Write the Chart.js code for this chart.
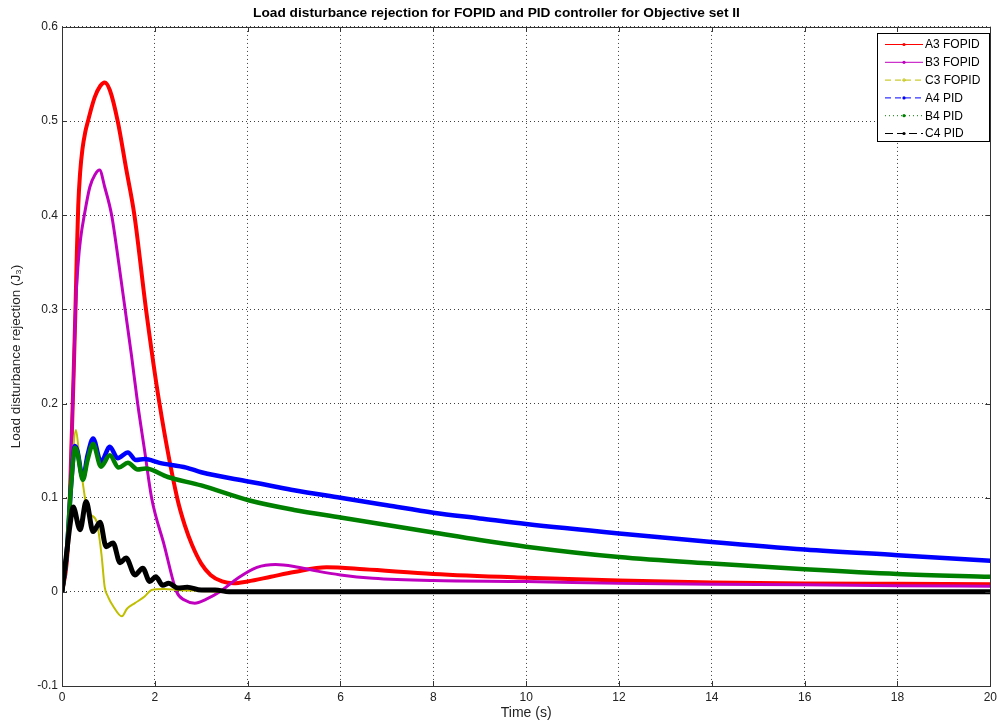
<!DOCTYPE html>
<html>
<head>
<meta charset="utf-8">
<script src="https://cdn.jsdelivr.net/npm/chart.js@4/dist/chart.umd.min.js"></script>
<style>
  html, body { margin: 0; padding: 0; background: #fff; }
  #wrap { width: 1001px; height: 726px; }
</style>
</head>
<body>
<div id="wrap"><canvas id="myChart" width="1001" height="726"></canvas></div>
<script>
// values (time in s, response)
const tA3 = [0, 0.1, 0.15, 0.2, 0.25, 0.29, 0.32, 0.35, 0.39, 0.44, 0.5, 0.56, 0.64, 0.71, 0.82, 0.92, 1.03, 1.2, 1.38, 1.56, 1.81, 2.1, 2.48, 2.65, 2.8, 3.0, 3.2, 3.45, 3.7, 4.0, 4.5, 5, 5.7, 6.5, 8, 10, 12, 14, 16, 18, 20];
const vA3 = [0, 0.03, 0.07, 0.15, 0.23, 0.3, 0.36, 0.41, 0.445, 0.47, 0.488, 0.5, 0.515, 0.526, 0.537, 0.541, 0.533, 0.5, 0.45, 0.4, 0.3, 0.2, 0.1, 0.07, 0.05, 0.03, 0.018, 0.011, 0.009, 0.011, 0.016, 0.021, 0.026, 0.024, 0.019, 0.015, 0.012, 0.01, 0.009, 0.0085, 0.008];

const tB3 = [0, 0.1, 0.15, 0.2, 0.25, 0.29, 0.35, 0.4, 0.48, 0.6, 0.71, 0.81, 0.92, 1.07, 1.22, 1.36, 1.5, 1.63, 1.78, 1.93, 2.2, 2.47, 2.65, 2.86, 3.1, 3.4, 3.8, 4.2, 4.6, 5, 5.5, 6, 6.7, 8, 10, 12, 14, 16, 18, 20];
const vB3 = [0, 0.03, 0.07, 0.15, 0.23, 0.3, 0.35, 0.375, 0.4, 0.43, 0.443, 0.448, 0.43, 0.4, 0.35, 0.3, 0.25, 0.2, 0.15, 0.1, 0.05, 0, -0.009, -0.012, -0.008, 0, 0.015, 0.026, 0.029, 0.027, 0.022, 0.018, 0.0145, 0.012, 0.011, 0.009, 0.008, 0.0075, 0.0065, 0.006];

const tC3 = [0, 0.1, 0.2, 0.3, 0.38, 0.45, 0.53, 0.62, 0.75, 0.85, 0.92, 0.99, 1.1, 1.29, 1.4, 1.57, 1.78, 1.93, 2.2, 2.5, 3, 3.5, 20];
const vC3 = [0, 0.04, 0.12, 0.172, 0.14, 0.115, 0.09, 0.082, 0.074, 0.04, 0.005, -0.005, -0.015, -0.026, -0.018, -0.012, -0.005, 0.002, 0.003, 0.002, 0.001, 0, 0];

const tA4 = [0, 0.1, 0.2, 0.28, 0.33, 0.45, 0.55, 0.67, 0.84, 1.03, 1.2, 1.42, 1.59, 1.78, 2.1, 2.68, 3, 4.04, 4.47, 5, 6, 7, 8, 9, 10, 12, 14, 16, 18, 20];
const vA4 = [0, 0.04, 0.116, 0.155, 0.15, 0.121, 0.145, 0.163, 0.138, 0.154, 0.142, 0.148, 0.14, 0.141, 0.137, 0.132, 0.127, 0.117, 0.113, 0.108, 0.1, 0.092, 0.084, 0.078, 0.072, 0.062, 0.053, 0.045, 0.039, 0.033];

const tB4 = [0, 0.1, 0.2, 0.28, 0.33, 0.45, 0.55, 0.67, 0.84, 1.03, 1.22, 1.42, 1.63, 1.8, 2.28, 3, 4.04, 5, 6, 7, 8, 9, 10, 12, 14, 16, 18, 20];
const vB4 = [0, 0.04, 0.116, 0.153, 0.148, 0.119, 0.14, 0.157, 0.133, 0.145, 0.132, 0.137, 0.13, 0.131, 0.122, 0.113, 0.097, 0.087, 0.079, 0.071, 0.063, 0.055, 0.048, 0.037, 0.03, 0.024, 0.019, 0.016];

const tC4 = [0, 0.09, 0.17, 0.24, 0.39, 0.52, 0.67, 0.82, 0.95, 1.1, 1.25, 1.38, 1.57, 1.74, 1.89, 2.02, 2.17, 2.3, 2.5, 2.7, 3, 3.3, 3.6, 20];
const vC4 = [0, 0.037, 0.07, 0.09, 0.066, 0.096, 0.064, 0.074, 0.048, 0.052, 0.031, 0.036, 0.018, 0.025, 0.011, 0.016, 0.007, 0.009, 0.004, 0.005, 0.002, 0.002, 0, 0];

const xTicks = [0, 2, 4, 6, 8, 10, 12, 14, 16, 18, 20];
const yTicks = [-0.1, 0, 0.1, 0.2, 0.3, 0.4, 0.5, 0.6];

const pts = (ts, vs) => ts.map((t, i) => ({x: t, y: vs[i]}));
const FONT = '"Liberation Sans", Arial, sans-serif';

// legend styling: [dash pattern, marker]
const series = [
    {label: 'A3 FOPID', color: '#ff0000', data: pts(tA3, vA3), width: 4, dash: [], marker: 'dot'},
    {label: 'B3 FOPID', color: '#bf00bf', data: pts(tB3, vB3), width: 3, dash: [], marker: 'dot'},
    {label: 'C3 FOPID', color: '#bfbf00', data: pts(tC3, vC3), width: 2, dash: [6, 4], marker: 'plus'},
    {label: 'A4 PID', color: '#0000ff', data: pts(tA4, vA4), width: 4.5, dash: [6, 4], marker: 'star'},
    {label: 'B4 PID', color: '#008000', data: pts(tB4, vB4), width: 4.5, dash: [1, 3], marker: 'dot'},
    {label: 'C4 PID', color: '#000000', data: pts(tC4, vC4), width: 5, dash: [8, 4], marker: 'dot'},
];

// box, inward ticks and legend drawn MATLAB style
const matlabAxes = {
    id: 'matlabAxes',
    afterDatasetsDraw(chart) {
        const {ctx, chartArea: a, scales: {x, y}} = chart;
        ctx.save();
        ctx.strokeStyle = '#333';
        ctx.lineWidth = 1;
        ctx.setLineDash([]);
        ctx.strokeRect(Math.round(a.left) + 0.5, Math.round(a.top) + 0.5, Math.round(a.right - a.left), Math.round(a.bottom - a.top));
        ctx.beginPath();
        xTicks.forEach((t) => {
            const px = Math.round(x.getPixelForValue(t)) + 0.5;
            ctx.moveTo(px, a.bottom); ctx.lineTo(px, a.bottom - 5);
            ctx.moveTo(px, a.top); ctx.lineTo(px, a.top + 5);
        });
        yTicks.forEach((v) => {
            const py = Math.round(y.getPixelForValue(v)) + 0.5;
            ctx.moveTo(a.left, py); ctx.lineTo(a.left + 5, py);
            ctx.moveTo(a.right, py); ctx.lineTo(a.right - 5, py);
        });
        ctx.stroke();

        // legend
        const lx = 877, ly = 33, lw = 112, lh = 108;
        ctx.fillStyle = '#fff';
        ctx.fillRect(lx, ly, lw, lh);
        ctx.strokeStyle = '#000';
        ctx.strokeRect(lx + 0.5, ly + 0.5, lw, lh);
        ctx.font = '12px ' + FONT;
        ctx.textBaseline = 'middle';
        series.forEach((s, i) => {
            const cy = ly + 11.5 + i * 17.8;
            ctx.strokeStyle = s.color;
            ctx.lineWidth = 1;
            ctx.setLineDash(s.dash);
            ctx.beginPath();
            ctx.moveTo(lx + 8, cy); ctx.lineTo(lx + 46, cy);
            ctx.stroke();
            ctx.setLineDash([]);
            ctx.fillStyle = s.color;
            const mx = lx + 27;
            if (s.marker === 'plus') {
                ctx.beginPath();
                ctx.moveTo(mx - 2, cy); ctx.lineTo(mx + 2, cy);
                ctx.moveTo(mx, cy - 2); ctx.lineTo(mx, cy + 2);
                ctx.stroke();
            } else {
                ctx.beginPath();
                ctx.arc(mx, cy, 1.6, 0, Math.PI * 2);
                ctx.fill();
            }
            ctx.fillStyle = '#000';
            ctx.fillText(s.label, lx + 48, cy + 0.5);
        });
        ctx.restore();
    }
};

const ctx = document.getElementById('myChart').getContext('2d');

const myChart = new Chart(ctx, {
    type: 'line',
    data: {
        datasets: series.map((s, i) => ({
            label: s.label,
            data: s.data,
            borderColor: s.color,
            backgroundColor: s.color,
            borderWidth: s.width,
            pointRadius: 0,
            cubicInterpolationMode: 'monotone',
            order: series.length - i,
        }))
    },
    options: {
        responsive: false,
        animation: false,
        layout: { padding: { top: 0, right: 8, bottom: 0, left: 0 } },
        plugins: {
            legend: { display: false },
            tooltip: { enabled: false },
            title: {
                display: true,
                text: 'Load disturbance rejection for FOPID and PID controller for Objective set II',
                color: '#000',
                font: { family: FONT, size: 13.7, weight: 'bold' },
                padding: { top: 5, bottom: 5.5 },
            }
        },
        scales: {
            x: {
                type: 'linear',
                min: 0,
                max: 20,
                afterBuildTicks: (scale) => { scale.ticks = xTicks.map((v) => ({value: v})); },
                afterFit: (scale) => { scale.height = 40; },
                ticks: {
                    color: '#222',
                    padding: 4,
                    maxRotation: 0,
                    font: { family: FONT, size: 12 },
                },
                grid: { color: 'rgba(0,0,0,0.75)', drawTicks: false, lineWidth: 1 },
                border: { display: false, dash: [1, 3] },
                title: {
                    display: true,
                    text: 'Time (s)',
                    color: '#222',
                    font: { family: FONT, size: 14 },
                    padding: { top: 0, bottom: 4 },
                }
            },
            y: {
                min: -0.1,
                max: 0.6,
                afterBuildTicks: (scale) => { scale.ticks = yTicks.map((v) => ({value: v})); },
                afterFit: (scale) => { scale.width = 62; },
                ticks: {
                    color: '#222',
                    padding: 4,
                    font: { family: FONT, size: 12 },
                    callback: (v) => String(Math.round(v * 10) / 10),
                },
                grid: { color: 'rgba(0,0,0,0.75)', drawTicks: false, lineWidth: 1 },
                border: { display: false, dash: [1, 3] },
                title: {
                    display: true,
                    text: 'Load disturbance rejection (J₃)',
                    color: '#222',
                    font: { family: FONT, size: 13.5 },
                    padding: { top: 8, bottom: 0 },
                }
            }
        }
    },
    plugins: [matlabAxes]
});
</script>
</body>
</html>
